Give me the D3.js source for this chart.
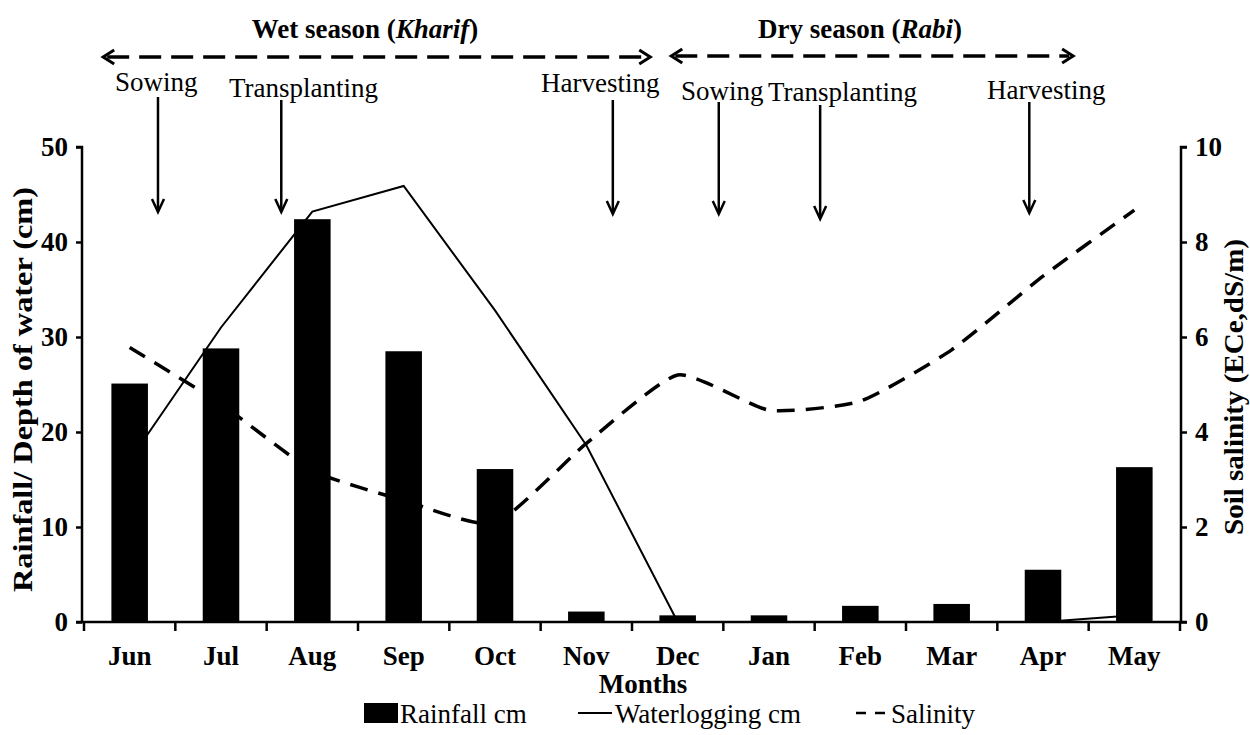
<!DOCTYPE html>
<html>
<head>
<meta charset="utf-8">
<script src="https://cdn.jsdelivr.net/npm/d3@7"></script>
<style>
  html, body { margin: 0; padding: 0; background: #fff; }
  svg { display: block; }
  text { font-family: "Liberation Serif", "Times New Roman", serif; fill: #000; }
</style>
</head>
<body>
<svg id="chart" width="1250" height="735"></svg>
<script>
// ---------------- data ----------------
const months = ["Jun","Jul","Aug","Sep","Oct","Nov","Dec","Jan","Feb","Mar","Apr","May"];
const rainfall = [25.1, 28.8, 42.4, 28.5, 16.1, 1.1, 0.7, 0.7, 1.7, 1.9, 5.5, 16.3];
const waterlogging = [17.0, 31.0, 43.2, 45.9, 32.8, 18.6, 0.0, 0.0, 0.0, 0.0, 0.0, 0.7];
const salinity = [5.78, 4.59, 3.19, 2.56, 2.08, 3.76, 5.2, 4.46, 4.65, 5.73, 7.28, 8.67];
const leftTicks = [0, 10, 20, 30, 40, 50];
const rightTicks = [0, 2, 4, 6, 8, 10];
const seasonLabels = ["Wet season", "Dry season"];
const seasonItalic = ["Kharif", "Rabi"];
const stageLabels = ["Sowing", "Transplanting", "Harvesting", "Sowing", "Transplanting", "Harvesting"];
const legendLabels = ["Rainfall cm", "Waterlogging cm", "Salinity"];

// ---------------- layout ----------------
const FONT = "Liberation Serif";
const svg = d3.select("#chart").attr("font-family", FONT);
const L = 84, R = 1180, T = 147, B = 622;
const FS = 27;

const x = d3.scaleBand().domain(months).range([L, R]).padding(0);
const xi = d3.scaleLinear().domain([0, 12]).range([L, R]); // month-index positions for annotations
const yL = d3.scaleLinear().domain([0, 50]).range([B, T]);
const yR = d3.scaleLinear().domain([0, 10]).range([B, T]);
const cx = d => x(d) + x.bandwidth() / 2;
const barW = x.bandwidth() * 0.4;

// ---------------- lines (behind bars) ----------------
const lineW = d3.line().x((d, i) => cx(months[i])).y(d => yL(d));
svg.append("path").datum(waterlogging)
  .attr("d", lineW).attr("fill", "none").attr("stroke", "#000").attr("stroke-width", 2);

const lineS = d3.line().x((d, i) => cx(months[i])).y(d => yR(d)).curve(d3.curveCardinal.tension(0.45));
svg.append("path").datum(salinity)
  .attr("d", lineS).attr("fill", "none").attr("stroke", "#000").attr("stroke-width", 3.5)
  .attr("stroke-dasharray", "18,11");

// ---------------- bars ----------------
svg.append("g").selectAll("rect").data(rainfall).join("rect")
  .attr("x", (d, i) => cx(months[i]) - barW / 2)
  .attr("width", barW)
  .attr("y", d => yL(d))
  .attr("height", d => B - yL(d))
  .attr("fill", "#000");

// ---------------- axes ----------------
const axL = svg.append("g").attr("transform", `translate(${L - 2},0)`)
  .call(d3.axisLeft(yL).tickValues(leftTicks).tickSize(6).tickPadding(8));
const axR = svg.append("g").attr("transform", `translate(${R + 1},0)`)
  .call(d3.axisRight(yR).tickValues(rightTicks).tickSize(6).tickPadding(8));
const axB = svg.append("g").attr("transform", `translate(0,${B})`)
  .call(d3.axisBottom(x).tickSize(0).tickPadding(43));
[axL, axR, axB].forEach(g => {
  g.attr("font-family", FONT);
  g.selectAll(".domain").attr("stroke", "#000").attr("stroke-width", 2.5);
  g.selectAll(".tick line").attr("stroke", "#000").attr("stroke-width", 2.5);
  g.selectAll(".tick text").attr("font-size", FS).attr("font-weight", "bold")
    .attr("font-family", FONT);
});
axL.select(".domain").attr("d", `M-6,${T}H0V${B}H-6`);
axR.select(".domain").attr("d", `M6,${T}H0V${B}H6`);
axB.select(".domain").attr("d", `M${L - 2},0H${R + 1}`);
axB.selectAll(".tick text").attr("dy", "0");
// boundary ticks on x axis
const bounds = months.map(m => x(m)).concat([R]);
svg.append("g").selectAll("line").data(bounds).join("line")
  .attr("x1", d => d).attr("x2", d => d).attr("y1", B).attr("y2", B + 9)
  .attr("stroke", "#000").attr("stroke-width", 2.5);

// axis titles
svg.append("text").attr("transform", `translate(32,${(T + B) / 2 + 5}) rotate(-90)`)
  .attr("text-anchor", "middle").attr("font-size", FS).attr("font-weight", "bold")
  .attr("font-family", FONT)
  .attr("textLength", 405).attr("lengthAdjust", "spacingAndGlyphs")
  .text("Rainfall/ Depth of water (cm)");
svg.append("text").attr("transform", `translate(1243,387) rotate(-90)`)
  .attr("text-anchor", "middle").attr("font-size", FS).attr("font-weight", "bold")
  .attr("font-family", FONT)
  .attr("textLength", 296).attr("lengthAdjust", "spacingAndGlyphs")
  .text("Soil salinity (ECe,dS/m)");
svg.append("text").attr("x", 643).attr("y", 693).attr("text-anchor", "middle")
  .attr("font-family", FONT)
  .attr("font-size", FS).attr("font-weight", "bold").text("Months");

// ---------------- legend ----------------
const lg = svg.append("g").attr("font-family", FONT);
lg.append("rect").attr("x", 364).attr("y", 703).attr("width", 34).attr("height", 20).attr("fill", "#000");
lg.append("text").attr("x", 400).attr("y", 723).attr("font-size", FS).attr("font-family", FONT).text(legendLabels[0]);
lg.append("line").attr("x1", 578).attr("x2", 612).attr("y1", 713).attr("y2", 713)
  .attr("stroke", "#000").attr("stroke-width", 2);
lg.append("text").attr("x", 615).attr("y", 723).attr("font-size", FS).attr("font-family", FONT).text(legendLabels[1]);
lg.append("line").attr("x1", 856).attr("x2", 886).attr("y1", 713).attr("y2", 713)
  .attr("stroke", "#000").attr("stroke-width", 2.5).attr("stroke-dasharray", "10,9");
lg.append("text").attr("x", 891).attr("y", 723).attr("font-size", FS).attr("font-family", FONT).text(legendLabels[2]);

// ---------------- season annotations ----------------
const seasonSpans = [[0.21, 6.2, 57], [6.43, 10.83, 56]];
const seasonCenters = [365, 860];
seasonLabels.forEach((lab, i) => {
  const t = svg.append("text").attr("x", seasonCenters[i]).attr("y", 38)
    .attr("text-anchor", "middle").attr("font-size", FS).attr("font-weight", "bold")
    .attr("font-family", FONT);
  t.append("tspan").text(lab + " (");
  t.append("tspan").attr("font-style", "italic").text(seasonItalic[i]);
  t.append("tspan").text(")");
  const [a, b, yy] = seasonSpans[i];
  const x1 = xi(a), x2 = xi(b);
  svg.append("line").attr("x1", x1 + 4).attr("x2", x2 - 4).attr("y1", yy).attr("y2", yy)
    .attr("stroke", "#000").attr("stroke-width", 3.5).attr("stroke-dasharray", "22,10");
  svg.append("path").attr("d", `M${x1 + 11},${yy - 7}L${x1},${yy}L${x1 + 11},${yy + 7}`)
    .attr("fill", "none").attr("stroke", "#000").attr("stroke-width", 3);
  svg.append("path").attr("d", `M${x2 - 11},${yy - 7}L${x2},${yy}L${x2 - 11},${yy + 7}`)
    .attr("fill", "none").attr("stroke", "#000").attr("stroke-width", 3);
});

// ---------------- stage annotations ----------------
const stageTextX = [115, 229, 541, 681, 768, 987];
const stageTextY = [91, 97, 92, 100, 101, 99];
const stageArrowPos = [0.81, 2.16, 5.79, 6.95, 8.06, 10.35];
const stageArrowY = [[97, 212], [100, 212], [100, 214], [102, 214], [105, 219], [102, 213]];
stageLabels.forEach((lab, i) => {
  svg.append("text").attr("x", stageTextX[i]).attr("y", stageTextY[i])
    .attr("font-size", FS).attr("font-family", FONT).text(lab);
  const ax = xi(stageArrowPos[i]);
  const [y1, y2] = stageArrowY[i];
  svg.append("line").attr("x1", ax).attr("x2", ax).attr("y1", y1).attr("y2", y2 - 1)
    .attr("stroke", "#000").attr("stroke-width", 2.5);
  svg.append("path").attr("d", `M${ax - 6},${y2 - 13}L${ax},${y2}L${ax + 6},${y2 - 13}`)
    .attr("fill", "none").attr("stroke", "#000").attr("stroke-width", 2.5);
});
</script>
</body>
</html>
